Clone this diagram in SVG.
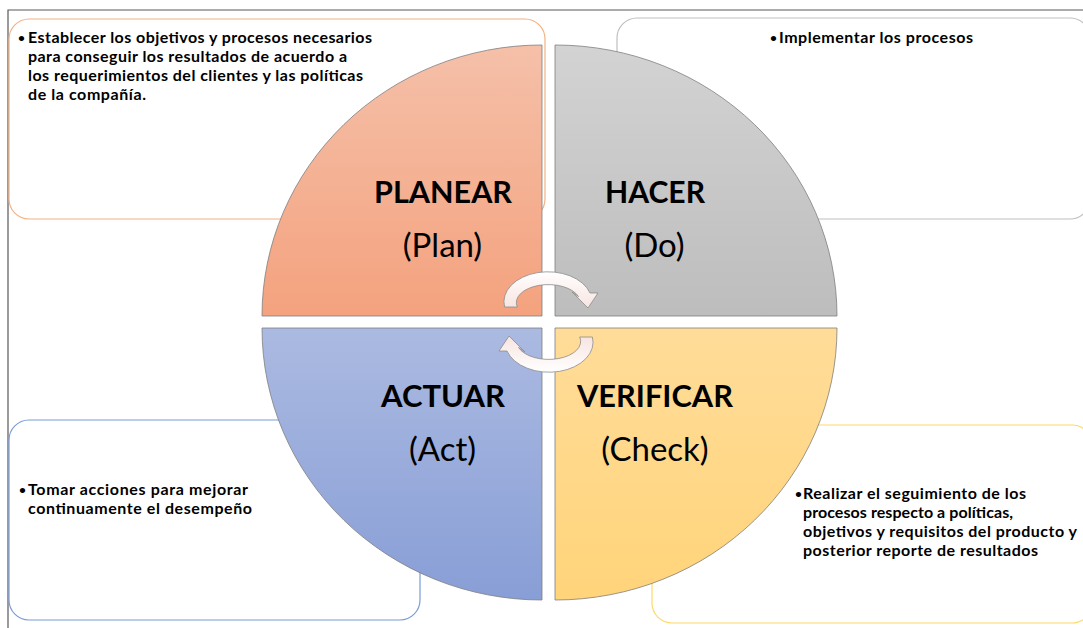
<svg xmlns="http://www.w3.org/2000/svg" width="1083" height="628" viewBox="0 0 1083 628">
  <defs>
    <linearGradient id="gPlan" x1="0" y1="0" x2="0" y2="1">
      <stop offset="0" stop-color="#F5C0A9"/>
      <stop offset="1" stop-color="#F4A27E"/>
    </linearGradient>
    <linearGradient id="gDo" x1="0" y1="0" x2="0" y2="1">
      <stop offset="0" stop-color="#D3D3D3"/>
      <stop offset="1" stop-color="#BDBDBD"/>
    </linearGradient>
    <linearGradient id="gAct" x1="0" y1="0" x2="0" y2="1">
      <stop offset="0" stop-color="#ABBAE1"/>
      <stop offset="1" stop-color="#889ED6"/>
    </linearGradient>
    <linearGradient id="gCheck" x1="0" y1="0" x2="0" y2="1">
      <stop offset="0" stop-color="#FFDC99"/>
      <stop offset="1" stop-color="#FFD47A"/>
    </linearGradient>
    <linearGradient id="gArrow" x1="0" y1="0" x2="0" y2="1">
      <stop offset="0" stop-color="#FFFFFF"/>
      <stop offset="1" stop-color="#F7E4E0"/>
    </linearGradient>
    <!-- curved cycle arrow, drawn once and reused -->
    <path id="cycArrow" d="M504.6,307 A44,30 0 0 1 590,293 L598,293 L588,308 L572,292 L578.5,296.6 A32,18 0 0 0 517.3,307 Z"/>
  </defs>
  <style>
    .frame { stroke: #595959; stroke-width: 1.2; fill: none; }
    .box { fill: #FFFFFF; stroke-width: 1.2; }
    .quad { stroke: #7F7F7F; stroke-width: 0.8; }
    .body { font-family: Lato, "Open Sans", "Liberation Sans", sans-serif; font-weight: bold; font-size: 16px; fill: #000; }
    .bullet { font-size: 12px; }
    .title { font-family: Lato, "Open Sans", "Liberation Sans", sans-serif; font-weight: bold; font-size: 30px; fill: #000; text-anchor: middle; }
    .sub { font-family: Lato, "Open Sans", "Liberation Sans", sans-serif; font-size: 33px; fill: #000; text-anchor: middle; }
    .arrow { fill: url(#gArrow); stroke: #8C8C8C; stroke-width: 0.8; }
  </style>

  <rect width="1083" height="628" fill="#FFFFFF"/>
  <!-- page frame -->
  <path class="frame" d="M8,628 L8,10 L1083,10"/>

  <!-- text boxes -->
  <g id="box-plan">
    <rect class="box" x="9" y="19" width="536" height="200" rx="20" stroke="#F4B183"/>
  </g>
  <g id="box-do">
    <rect class="box" x="617" y="18" width="473" height="201" rx="20" stroke="#BFBFBF"/>
  </g>
  <g id="box-act">
    <rect class="box" x="9" y="420" width="411" height="200" rx="20" stroke="#7A9CD8"/>
  </g>
  <g id="box-check">
    <rect class="box" x="652" y="425" width="440" height="198" rx="20" stroke="#FFD966"/>
  </g>

  <!-- quadrants -->
  <g id="quad-plan">
    <path class="quad" fill="url(#gPlan)" d="M542,316 L262,316 A280,271 0 0 1 542,45 Z"/>
    <text class="title" x="443" y="203" textLength="138" lengthAdjust="spacingAndGlyphs">PLANEAR</text>
    <text class="sub" x="442.5" y="257">(Plan)</text>
  </g>
  <g id="quad-do">
    <path class="quad" fill="url(#gDo)" d="M555,316 L555,45 A282,271 0 0 1 837,316 Z"/>
    <text class="title" x="655" y="203" textLength="100" lengthAdjust="spacingAndGlyphs">HACER</text>
    <text class="sub" x="654.5" y="257">(Do)</text>
  </g>
  <g id="quad-act">
    <path class="quad" fill="url(#gAct)" d="M542,328 L542,600 A280,272 0 0 1 262,328 Z"/>
    <text class="title" x="443" y="407" textLength="124" lengthAdjust="spacingAndGlyphs">ACTUAR</text>
    <text class="sub" x="442.5" y="461">(Act)</text>
  </g>
  <g id="quad-check">
    <path class="quad" fill="url(#gCheck)" d="M555,328 L837,328 A282,272 0 0 1 555,600 Z"/>
    <text class="title" x="655" y="407" textLength="156" lengthAdjust="spacingAndGlyphs">VERIFICAR</text>
    <text class="sub" x="655" y="461">(Check)</text>
  </g>

  <!-- connectors: cycle arrows in the centre -->
  <g id="connectors">
    <use href="#cycArrow" class="arrow"/>
    <use href="#cycArrow" class="arrow" transform="rotate(180 548.5 322)"/>
  </g>

  <!-- box texts -->
  <g id="text-plan" class="body">
    <text class="bullet" x="18" y="42">•</text>
    <text x="28" y="43" textLength="344">Establecer los objetivos y procesos necesarios</text>
    <text x="28" y="62" textLength="319">para conseguir los resultados de acuerdo a</text>
    <text x="28" y="81" textLength="335">los requerimientos del clientes y las políticas</text>
    <text x="28" y="100" textLength="118">de la compañía.</text>
  </g>
  <g id="text-do" class="body">
    <text class="bullet" x="770" y="42">•</text>
    <text x="779" y="43" textLength="194">Implementar los procesos</text>
  </g>
  <g id="text-act" class="body">
    <text class="bullet" x="19" y="494">•</text>
    <text x="28" y="495" textLength="220">Tomar acciones para mejorar</text>
    <text x="28" y="514" textLength="224">continuamente el desempeño</text>
  </g>
  <g id="text-check" class="body">
    <text class="bullet" x="795" y="498">•</text>
    <text x="803" y="499" textLength="223">Realizar el seguimiento de los</text>
    <text x="803" y="518" textLength="210">procesos respecto a políticas,</text>
    <text x="803" y="537" textLength="274">objetivos y requisitos del producto y</text>
    <text x="803" y="556" textLength="235">posterior reporte de resultados</text>
  </g>
</svg>
